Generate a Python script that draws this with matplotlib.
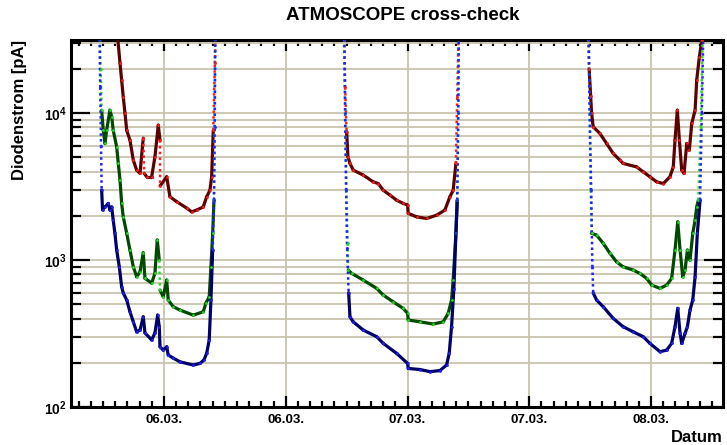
#!/usr/bin/env python3
"""ATMOSCOPE cross-check: diode current of three channels over three nights."""

import matplotlib

matplotlib.use("Agg")
import matplotlib.pyplot as plt
import numpy as np
from matplotlib.collections import LineCollection
from matplotlib.ticker import FixedLocator, LogLocator, MultipleLocator, NullFormatter

nan = np.nan

# time in hours since 05.03. 00:00, current in pA; nan separates the nights
red_t = [
    19.40, 19.67, 19.83, 19.99, 20.16, 20.33, 20.65, 20.98, 21.31, 21.64, 21.96, 22.05,
    22.30, 22.79, 23.11, 23.44, 23.61, 23.62, 24.27, 24.59, 25.25, 26.24, 26.73, 27.22,
    27.87, 28.21, 28.53, 28.70, 28.86, 29.02, 29.09, nan,
    41.73, 41.85, 42.00, 42.13, 42.33, 42.65, 43.64, 44.62, 45.11, 45.61, 46.27, 46.92,
    47.58, 48.01, 48.07, 48.90, 49.88, 50.86, 51.68, 52.18, 52.50, 52.77, 52.90, 53.03, nan,
    65.80, 65.90, 66.05, 66.14, 66.30, 66.96, 67.62, 68.27, 68.93, 69.25, 70.58, 71.23,
    71.89, 72.55, 73.21, 73.86, 74.19, 74.36, 74.59, 74.79, 75.02, 75.25, 75.52, 75.77,
    76.01, 76.34, 76.50, 76.76, 77.00, 77.05,
]
red_pA = [
    35000, 21900, 16800, 12900, 10000, 7660, 6550, 4790, 4100, 3900, 6760, 3900,
    3690, 3690, 5040, 8290, 6550, 3200, 3690, 2700, 2500, 2260, 2130, 2190,
    2300, 2700, 2990, 3690, 7660, 21900, 35000, nan,
    35000, 15000, 7500, 5040, 4550, 4100, 3790, 3410, 3320, 2990, 2770, 2560,
    2430, 2370, 2080, 1970, 1920, 2020, 2190, 2700, 2990, 4550, 12900, 35000, nan,
    35000, 20000, 13000, 10000, 8070, 7280, 6220, 5320, 4790, 4550, 4310, 3990,
    3690, 3410, 3320, 3690, 4310, 6550, 10480, 6550, 4100, 3890, 6220, 5600,
    8510, 10480, 16800, 24150, 31400, 35000,
]

green_t = [
    17.69, 17.75, 17.86, 18.02, 18.19, 18.35, 18.68, 18.85, 19.00, 19.34, 19.50, 19.67,
    19.83, 19.99, 20.33, 20.65, 20.98, 21.31, 21.64, 21.96, 22.13, 22.79, 23.11, 23.34,
    23.54, 23.61, 23.93, 24.27, 24.42, 24.92, 25.58, 26.89, 27.87, 28.14, 28.46, 28.63,
    28.80, 28.93, 29.00, 29.05, nan,
    41.78, 41.87, 41.98, 42.10, 42.16, 42.50, 43.64, 44.96, 45.61, 46.59, 47.58, 48.01,
    48.07, 49.22, 50.53, 51.52, 52.01, 52.34, 52.50, 52.77, 52.90, 53.00, 53.05, nan,
    65.85, 65.95, 66.05, 66.14, 66.63, 67.29, 67.94, 68.60, 69.25, 70.24, 70.90, 71.56,
    72.06, 72.88, 73.54, 74.03, 74.36, 74.63, 74.86, 75.12, 75.35, 75.58, 75.84, 76.11,
    76.34, 76.50, 76.66, 76.90, 77.10,
]
green_pA = [
    35000, 20000, 10480, 7660, 6220, 7660, 10480, 9440, 7660, 5900, 4550, 3500,
    2430, 1970, 1520, 1170, 900, 770, 832, 1120, 751, 698, 812, 1370,
    1000, 625, 563, 731, 535, 481, 457, 422, 445, 510, 563, 900,
    1520, 2560, 8000, 35000, nan,
    35000, 10000, 3000, 1300, 855, 812, 731, 642, 578, 520, 469, 434,
    391, 380, 367, 380, 434, 535, 731, 1520, 2560, 10000, 35000, nan,
    35000, 10000, 3000, 1520, 1480, 1300, 1115, 973, 900, 855, 812, 751,
    676, 642, 676, 751, 1170, 1820, 1170, 770, 855, 1170, 1000, 1520,
    1870, 2300, 2560, 8000, 35000,
]

blue_t = [
    17.65, 17.72, 17.80, 17.86, 17.95, 18.19, 18.51, 18.68, 18.85, 19.00, 19.17, 19.34,
    19.60, 19.83, 19.99, 20.33, 20.65, 20.98, 21.31, 21.64, 21.96, 22.13, 22.79, 23.11,
    23.38, 23.54, 23.61, 23.93, 24.27, 24.42, 24.92, 25.58, 26.89, 27.55, 27.94, 28.21,
    28.46, 28.63, 28.80, 28.93, 29.00, 29.05, nan,
    41.78, 41.85, 41.95, 42.05, 42.20, 42.33, 42.65, 43.64, 44.96, 45.61, 46.92, 48.01,
    48.07, 49.22, 50.21, 51.19, 51.85, 52.11, 52.34, 52.57, 52.77, 52.90, 53.00, 53.05, nan,
    65.85, 65.95, 66.10, 66.22, 66.30, 66.63, 67.29, 68.27, 69.25, 70.24, 71.23, 71.89,
    72.88, 73.54, 74.03, 74.36, 74.63, 74.86, 75.02, 75.35, 75.58, 75.84, 76.11, 76.34,
    76.56, 76.83, 77.00, 77.15,
]
blue_pA = [
    35000, 15000, 6000, 3000, 2200, 2300, 2430, 2190, 2300, 1870, 1520, 1170,
    900, 658, 597, 535, 445, 380, 325, 334, 411, 319, 286, 319,
    422, 352, 257, 244, 257, 226, 215, 203, 193, 198, 209, 232,
    286, 535, 1170, 2560, 8000, 35000, nan,
    35000, 10000, 3000, 1200, 600, 411, 380, 334, 301, 271, 232, 198,
    183, 180, 174, 177, 193, 232, 352, 640, 1520, 2560, 10000, 35000, nan,
    35000, 10000, 3000, 900, 597, 535, 481, 401, 352, 325, 301, 271,
    238, 244, 271, 352, 469, 317, 271, 317, 352, 457, 535, 770,
    1520, 2560, 10000, 35000,
]

tick_hours = [24, 36, 48, 60, 72]
tick_labels = ["06.03.", "06.03.", "07.03.", "07.03.", "08.03."]

plt.rcParams["font.family"] = ["Liberation Sans", "DejaVu Sans"]
plt.rcParams["font.weight"] = "bold"
plt.rcParams["mathtext.fontset"] = "custom"
plt.rcParams["mathtext.rm"] = "Liberation Sans:bold"
plt.rcParams["mathtext.bf"] = "Liberation Sans:bold"
plt.rcParams["mathtext.default"] = "bf"

fig = plt.figure(figsize=(7.27, 4.45), dpi=100)
ax = fig.add_axes([71 / 727, 1 - 407 / 445, 652 / 727, 367 / 445])


def draw_series(ax, t, v, dark, bright):
    """Slow parts as a thick dark trace, fast ramps as sparse bright dots."""
    t = np.asarray(t, dtype=float)
    v = np.asarray(v, dtype=float)
    lv = np.log10(v)
    body, ramp = [], []
    for i in range(len(t) - 1):
        if np.isnan(t[i]) or np.isnan(t[i + 1]):
            continue
        rate = abs(lv[i + 1] - lv[i]) / (t[i + 1] - t[i])
        seg = [(t[i], v[i]), (t[i + 1], v[i + 1])]
        (ramp if rate > 2.0 else body).append(seg)
    ax.add_collection(LineCollection(body, colors=dark, linewidths=2.3,
                                     capstyle="round", zorder=3))
    ax.add_collection(LineCollection(ramp, colors=bright, linewidths=1.8,
                                     linestyles=[(0, (1, 1.3))], zorder=3))
    ax.plot(t, v, ls="none", marker="o", ms=2.0, mfc=bright, mew=0, zorder=4)


draw_series(ax, red_t, red_pA, "#5c0000", "#ff1a1a")
draw_series(ax, green_t, green_pA, "#004a00", "#22dd22")
draw_series(ax, blue_t, blue_pA, "#00006a", "#2020ff")

ax.set_yscale("log")
ax.set_xlim(14.84, 79.09)
ax.set_ylim(100, 31500)

grid_col = "#c9c4ad"
ax.xaxis.set_major_locator(FixedLocator(tick_hours))
ax.set_xticklabels(tick_labels)
ax.xaxis.set_minor_locator(MultipleLocator(1.2))
ax.yaxis.set_major_locator(LogLocator(base=10))
ax.yaxis.set_minor_locator(LogLocator(base=10, subs=np.arange(2, 10)))
ax.yaxis.set_minor_formatter(NullFormatter())
ax.grid(True, axis="x", which="major", color=grid_col, lw=1.3)
ax.grid(True, axis="y", which="both", color=grid_col, lw=1.3)
ax.set_axisbelow(True)

ax.tick_params(axis="both", which="both", direction="in", top=True, right=True,
               width=1.6, colors="black", labelsize=9.5)
ax.tick_params(axis="x", which="major", length=8, pad=5)
ax.tick_params(axis="x", which="minor", length=4)
ax.tick_params(axis="y", which="major", length=14, pad=3, labelsize=10)
ax.tick_params(axis="y", which="minor", length=7)
for sp in ax.spines.values():
    sp.set_linewidth(2.2)

ax.set_xlabel("Datum", fontsize=12, fontweight="bold", loc="right")
ax.xaxis.set_label_coords(1.0, -0.062)
ax.set_ylabel("Diodenstrom [pA]", fontsize=12, fontweight="bold", loc="top")
ax.yaxis.set_label_coords(-0.068, 1.0)
fig.text(403 / 727, 1 - 16 / 445, "ATMOSCOPE cross-check", ha="center", va="center",
         fontsize=13.5, fontweight="bold")

fig.savefig("out.png", dpi=100)
